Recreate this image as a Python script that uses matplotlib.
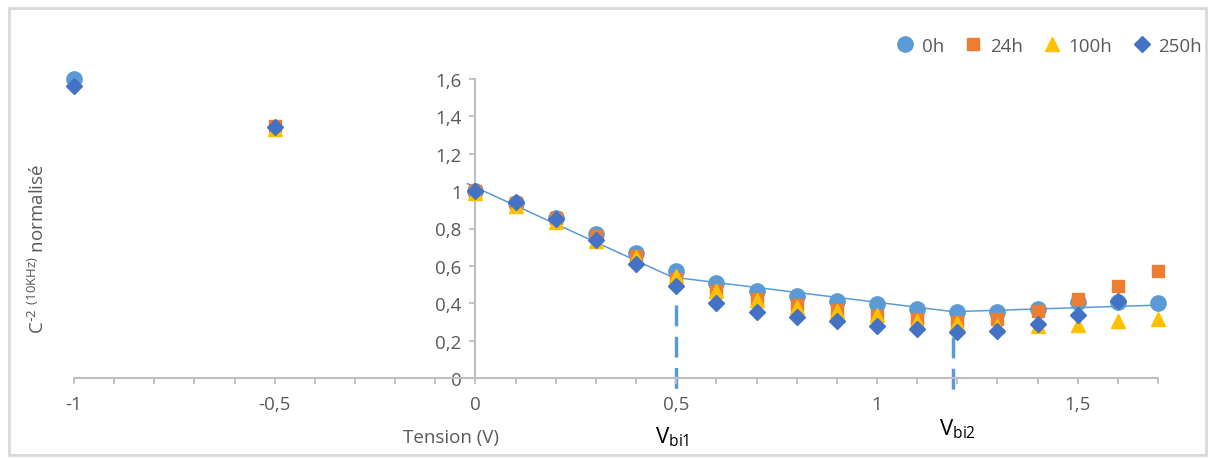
import numpy as np
import matplotlib.pyplot as plt
from matplotlib.ticker import FuncFormatter, MultipleLocator
from matplotlib.patches import Rectangle

plt.rcParams['font.family'] = ['Open Sans', 'DejaVu Sans']

# tension (V)
tension = [-1, -0.5, 0, 0.1, 0.2, 0.3, 0.4, 0.5, 0.6, 0.7, 0.8, 0.9,
           1.0, 1.1, 1.2, 1.3, 1.4, 1.5, 1.6, 1.7]
nan = np.nan
c_0h = [1.60, nan, 1.0, 0.935, 0.855, 0.77, 0.67, 0.57, 0.51, 0.465, 0.44, 0.41,
        0.395, 0.37, 0.353, 0.353, 0.37, 0.405, 0.405, 0.40]
c_24h = [nan, 1.35, 1.0, 0.935, 0.855, 0.76, 0.655, 0.53, 0.465, 0.425, 0.39, 0.365,
         0.33, 0.315, 0.30, 0.315, 0.36, 0.425, 0.49, 0.575]
c_100h = [nan, 1.33, 0.99, 0.92, 0.835, 0.735, 0.645, 0.545, 0.465, 0.42, 0.38, 0.36,
          0.335, 0.305, 0.295, 0.28, 0.28, 0.285, 0.305, 0.315]
c_250h = [1.565, 1.345, 1.0, 0.94, 0.85, 0.74, 0.61, 0.49, 0.40, 0.355, 0.325, 0.305,
          0.28, 0.26, 0.245, 0.25, 0.29, 0.337, 0.41, nan]

# ligne d'ajustement
fit_x = [-0.02, 0.49, 1.19, 1.70]
fit_y = [1.04, 0.54, 0.355, 0.39]

# Vbi
vbi_x = [0.5, 1.19]
vbi_top = [0.39, 0.22]
vbi_labels = [r'V$_{\mathregular{bi1}}$', r'V$_{\mathregular{bi2}}$']

fig = plt.figure(figsize=(12.15, 4.6), dpi=100)
ax = fig.add_axes([74/1215, 81/460, (1158-74)/1215, (379-80)/460])

ax.plot(fit_x, fit_y, c='#5B9BD5', linewidth=1.1, zorder=2)
ax.plot(tension, c_0h, 'o', c='#5B9BD5', markersize=11, label='0h', clip_on=False, zorder=3)
ax.plot(tension, c_24h, 's', c='#ED7D31', markersize=8.5, label='24h', clip_on=False, zorder=4)
ax.plot(tension, c_100h, '^', c='#FFC000', markersize=10, label='100h', clip_on=False, zorder=5)
ax.plot(tension, c_250h, 'D', c='#4472C4', markersize=8, label='250h', clip_on=False, zorder=6)

for vx, vt in zip(vbi_x, vbi_top):
    ax.plot([vx, vx], [vt, -0.065], c='#5B9BD5', linewidth=2.5,
            dashes=(6, 3), clip_on=False, zorder=1)

ax.text(0.49, -0.31, vbi_labels[0], fontsize=16, ha='center', va='center')
ax.text(1.2, -0.27, vbi_labels[1], fontsize=16, ha='center', va='center')

ax.set_xlim(-1, 1.7)
ax.set_ylim(0, 1.6)
ax.spines['top'].set_visible(False)
ax.spines['right'].set_visible(False)
ax.spines['left'].set_position(('data', 0))
for s in ['left', 'bottom']:
    ax.spines[s].set_color('#BFBFBF')
    ax.spines[s].set_linewidth(1.5)

ax.xaxis.set_major_locator(MultipleLocator(0.5))
ax.xaxis.set_minor_locator(MultipleLocator(0.1))
ax.yaxis.set_major_locator(MultipleLocator(0.2))
comma = FuncFormatter(lambda v, p: ('%g' % round(v, 2)).replace('.', ','))
ax.xaxis.set_major_formatter(comma)
ax.yaxis.set_major_formatter(comma)
ax.tick_params(axis='x', which='both', direction='out', length=4, width=1.3,
               color='#BFBFBF', labelsize=13.5, labelcolor='#595959', pad=8)
ax.tick_params(axis='y', direction='out', length=4, width=1.3,
               color='#BFBFBF', labelsize=13.5, labelcolor='#595959', pad=6)

fig.text(451/1215, 1-438/460, 'Tension (V)', fontsize=13.5, color='#595959',
         ha='center', va='center')
fig.text(38/1215, 1-249/460,
         r'C$^{\mathregular{\text{-}2}}$ $^{\mathregular{(10KHz)}}$ normalisé',
         fontsize=13.5, color='#595959', rotation=90, ha='center', va='center')

ax.legend(loc='center right', bbox_to_anchor=(1202/1215, 1-47/460),
          bbox_transform=fig.transFigure, ncol=4, frameon=False, borderaxespad=0,
          borderpad=0, fontsize=13.5, labelcolor='#595959', handletextpad=0.35,
          columnspacing=1.0, handlelength=1.1)

fig.patches.append(Rectangle((9/1215, 4/460), 1197/1215, 447/460,
                             transform=fig.transFigure, fill=False,
                             edgecolor='#D9D9D9', linewidth=2))

fig.savefig('out.png', dpi=100)
